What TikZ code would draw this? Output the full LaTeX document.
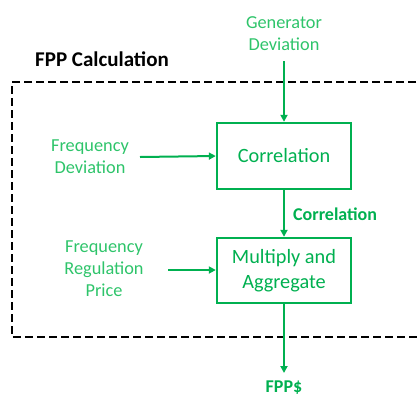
\documentclass[tikz,border=0pt]{standalone}
\usepackage{fontspec}
\setmainfont{Carlito}
\usetikzlibrary{arrows.meta}
\definecolor{fgreen}{HTML}{00B050}
\definecolor{lgreen}{HTML}{2EC46A}
\begin{document}
\begin{tikzpicture}[x=1pt,y=-1pt,
  blockbox/.style={draw=fgreen,line width=2.4pt,minimum width=134pt,text=fgreen,font=\fontsize{20.3}{25}\selectfont,align=center,inner sep=0pt},
  lbl/.style={text=lgreen,font=\fontsize{18.3}{22}\selectfont,align=center,inner sep=0pt},
  blbl/.style={text=fgreen,font=\bfseries\fontsize{18}{22}\selectfont,inner sep=0pt},
  flow/.style={draw=fgreen,line width=2pt,-{Triangle[length=7pt,width=7pt]}}]
\useasboundingbox (0,0) rectangle (419,394);
\begin{scope}
\clip (0,0) rectangle (419,394);
\draw[line width=2.4pt,dash pattern=on 8pt off 4pt] (440,82) -- (12,82) -- (12,337) -- (440,337);
\end{scope}
\node[anchor=west,font=\bfseries\fontsize{21}{24}\selectfont,inner sep=0pt] (title) at (35,59) {FPP Calculation};
\node[blockbox,minimum height=66pt] (corr) at (284,156) {Correlation};
\node[blockbox,minimum height=65pt] (mult) at (284,270.5) {Multiply and\\Aggregate};
\node[lbl] (gen) at (284,34) {Generator\\Deviation};
\node[lbl] (fdev) at (90,157) {Frequency\\Deviation};
\node[lbl] (frp) at (104,269) {Frequency\\Regulation\\Price};
\node[blbl,anchor=west] (clab) at (293,214) {Correlation};
\node[blbl] (fpp) at (284,388) {FPP\$};
\coordinate (genend) at (284,61);
\coordinate (fdevend) at (140,157);
\coordinate (frpend) at (168,270);
\coordinate (outend) at (284,373);
\draw[flow] (genend) -- (corr.north);
\draw[flow] (fdevend) -- (corr.west);
\draw[flow] (corr.south) -- (mult.north);
\draw[flow] (frpend) -- (frpend -| mult.west);
\draw[flow] (mult.south) -- (outend);
\end{tikzpicture}
\end{document}
